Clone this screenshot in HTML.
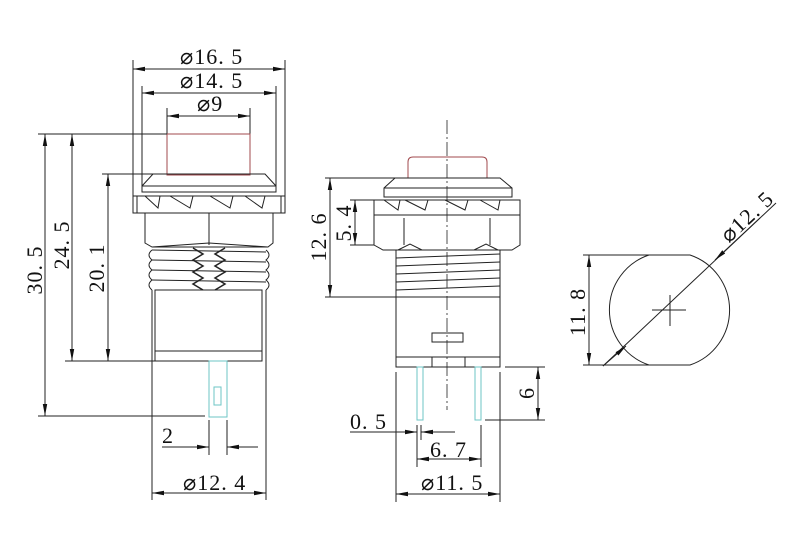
<!DOCTYPE html>
<html><head><meta charset="utf-8"><style>
html,body{margin:0;padding:0;background:#fff;}
svg{display:block;}
text{font-family:"Liberation Serif",serif;fill:#111;letter-spacing:1px;}
</style></head><body>
<svg width="795" height="555" viewBox="0 0 795 555" xmlns="http://www.w3.org/2000/svg">
<defs>
<marker id="a" viewBox="0 0 12 6" refX="12" refY="3" markerWidth="12" markerHeight="6" orient="auto-start-reverse" markerUnits="userSpaceOnUse"><path d="M0,0.8 L12,3 L0,5.2z" fill="#111"/></marker>
</defs>
<g stroke="#222" stroke-width="1" fill="none">
<line x1="133" y1="60" x2="133" y2="196"/><line x1="285" y1="60" x2="285" y2="196"/>
<line x1="142" y1="86" x2="142" y2="186"/><line x1="276" y1="86" x2="276" y2="186"/>
<line x1="167" y1="108" x2="167" y2="134"/><line x1="250" y1="108" x2="250" y2="134"/>
<line x1="133" y1="69" x2="285" y2="69" marker-start="url(#a)" marker-end="url(#a)"/>
<line x1="142" y1="93" x2="276" y2="93" marker-start="url(#a)" marker-end="url(#a)"/>
<line x1="167" y1="116" x2="250" y2="116" marker-start="url(#a)" marker-end="url(#a)"/>
<rect x="167" y="134" width="83" height="41" stroke="#a0484c"/>
<path d="M153,174 L265,174 L276,186 L276,192 L142,192 L142,186 Z"/>
<line x1="142" y1="186" x2="276" y2="186"/>
<rect x="133" y="196" width="152" height="17"/>
<line x1="137" y1="196" x2="137" y2="213"/><line x1="281" y1="196" x2="281" y2="213"/>
<path d="M145,196 L158,208 L160,196 M170,196 L190,208 L193,196 M210,196 L230,208 L233,196 M245,196 L262,208 L265,196"/>
<path d="M145,213 L145,243 L152,247 L268,247 L273,243 L273,213"/>
<line x1="209" y1="213" x2="209" y2="245"/>
<path d="M152,247 L209,243 L268,247"/>
<path d="M152,250 Q146,255 152,260 Q146,265 152,270 Q146,275 152,280 Q146,285 152,290 M266,250 Q272,255 266,260 Q272,265 266,270 Q272,275 266,280 Q272,285 266,290"/>
<path d="M152,250 L266,252 M152,260 L266,262 M152,270 L266,272 M152,280 L266,282"/>
<path d="M193,248 L203,254 L193,260 L203,266 L193,272 L203,278 L193,284 L203,290 M225,248 L215,254 L225,260 L215,266 L225,272 L215,278 L225,284 L215,290" stroke-width="1.5"/>
<rect x="155" y="290" width="107" height="71"/>
<line x1="155" y1="351" x2="262" y2="351"/>
<line x1="152" y1="290" x2="152" y2="500"/><line x1="266" y1="290" x2="266" y2="500"/>
<rect x="209" y="361" width="18" height="56" stroke="#6cc6c6"/>
<rect x="214" y="387" width="7" height="18" stroke="#6cc6c6"/>
<line x1="209" y1="420" x2="209" y2="455"/><line x1="227" y1="420" x2="227" y2="455"/>
<line x1="162" y1="447" x2="209" y2="447" marker-end="url(#a)"/>
<line x1="258" y1="447" x2="227" y2="447" marker-end="url(#a)"/>
<line x1="152" y1="493" x2="266" y2="493" marker-start="url(#a)" marker-end="url(#a)"/>
<line x1="38" y1="134" x2="167" y2="134"/>
<line x1="102" y1="174" x2="153" y2="174"/>
<line x1="65" y1="361" x2="155" y2="361"/>
<line x1="38" y1="416" x2="205" y2="416"/>
<line x1="45" y1="134" x2="45" y2="416" marker-start="url(#a)" marker-end="url(#a)"/>
<line x1="72" y1="134" x2="72" y2="361" marker-start="url(#a)" marker-end="url(#a)"/>
<line x1="108" y1="174" x2="108" y2="361" marker-start="url(#a)" marker-end="url(#a)"/>

<line x1="447" y1="120" x2="447" y2="410" stroke-dasharray="14,3,2,3" stroke-width="0.8"/>
<path d="M408,178 L408,162 Q408,157 413,157 L482,157 Q487,157 487,162 L487,178" stroke="#a0484c"/>
<path d="M395,178 L500,178 L512,188 L512,197 L384,197 L384,188 Z"/>
<line x1="384" y1="188" x2="512" y2="188"/>
<rect x="374" y="200" width="146" height="15"/>
<path d="M384,200 L398,210 L400,200 M405,200 L425,210 L428,200 M445,200 L465,210 L468,200 M480,200 L498,210 L500,200"/>
<path d="M374,215 L374,245 L383,250 L512,250 L520,245 L520,215"/>
<line x1="404" y1="218" x2="404" y2="245"/><line x1="490" y1="218" x2="490" y2="245"/>
<path d="M398,250 L410,244 L422,250 M474,250 L486,244 L498,250"/>
<rect x="396" y="250" width="104" height="47"/>
<path d="M396,258 L500,254 M396,266 L500,262 M396,274 L500,270 M396,282 L500,278 M396,290 L500,286"/>
<rect x="396" y="297" width="104" height="60"/>
<rect x="432" y="333" width="31" height="9"/>
<rect x="396" y="357" width="104" height="10"/>
<line x1="432" y1="357" x2="432" y2="367"/><line x1="465" y1="357" x2="465" y2="367"/>
<rect x="417" y="367" width="6" height="53" stroke="#6cc6c6"/>
<rect x="475" y="367" width="6" height="53" stroke="#6cc6c6"/>
<line x1="396" y1="372" x2="396" y2="502"/><line x1="500" y1="372" x2="500" y2="502"/>
<line x1="417" y1="425" x2="417" y2="467"/><line x1="421" y1="425" x2="421" y2="440"/><line x1="481" y1="425" x2="481" y2="467"/>
<line x1="350" y1="432" x2="417" y2="432" marker-end="url(#a)"/>
<line x1="455" y1="432" x2="421" y2="432" marker-end="url(#a)"/>
<line x1="417" y1="459" x2="481" y2="459" marker-start="url(#a)" marker-end="url(#a)"/>
<line x1="396" y1="494" x2="500" y2="494" marker-start="url(#a)" marker-end="url(#a)"/>
<line x1="325" y1="178" x2="395" y2="178"/>
<line x1="350" y1="200" x2="374" y2="200"/>
<line x1="350" y1="245" x2="374" y2="245"/>
<line x1="325" y1="297" x2="396" y2="297"/>
<line x1="330" y1="178" x2="330" y2="297" marker-start="url(#a)" marker-end="url(#a)"/>
<line x1="355" y1="200" x2="355" y2="245" marker-start="url(#a)" marker-end="url(#a)"/>
<line x1="505" y1="367" x2="545" y2="367"/>
<line x1="485" y1="420" x2="545" y2="420"/>
<line x1="538" y1="367" x2="538" y2="420" marker-start="url(#a)" marker-end="url(#a)"/>

<path d="M649,255 L690,255 A58,58 0 0 1 690,365 L649,365 A58,58 0 0 1 649,255 Z"/>
<line x1="583" y1="255" x2="649" y2="255"/><line x1="583" y1="365" x2="649" y2="365"/>
<line x1="589" y1="255" x2="589" y2="365" marker-start="url(#a)" marker-end="url(#a)"/>
<line x1="652" y1="310" x2="686" y2="310"/><line x1="670" y1="295" x2="670" y2="326"/>
<line x1="603" y1="366" x2="776" y2="203"/>
<line x1="603" y1="366" x2="626" y2="346" marker-end="url(#a)"/>
<line x1="760" y1="218" x2="715" y2="260" marker-end="url(#a)"/>
</g>
<g font-size="22" style="white-space:pre">
<text x="180" y="64">⌀16. 5</text>
<text x="180" y="88">⌀14. 5</text>
<text x="197" y="111">⌀9</text>
<text x="162" y="443">2</text>
<text x="183" y="490">⌀12. 4</text>
<text transform="translate(42,270) rotate(-90)" text-anchor="middle">30. 5</text>
<text transform="translate(69,245) rotate(-90)" text-anchor="middle">24. 5</text>
<text transform="translate(104,268) rotate(-90)" text-anchor="middle">20. 1</text>
<text transform="translate(326,237) rotate(-90)" text-anchor="middle">12. 6</text>
<text transform="translate(351,223) rotate(-90)" text-anchor="middle">5. 4</text>
<text transform="translate(534,393) rotate(-90)" text-anchor="middle">6</text>
<text transform="translate(585,312) rotate(-90)" text-anchor="middle">11. 8</text>
<text transform="translate(752,222) rotate(-43)" text-anchor="middle">⌀12. 5</text>
<text x="350" y="429">0. 5</text>
<text x="430" y="457">6. 7</text>
<text x="421" y="490">⌀11. 5</text>
</g>
</svg>
</body></html>
